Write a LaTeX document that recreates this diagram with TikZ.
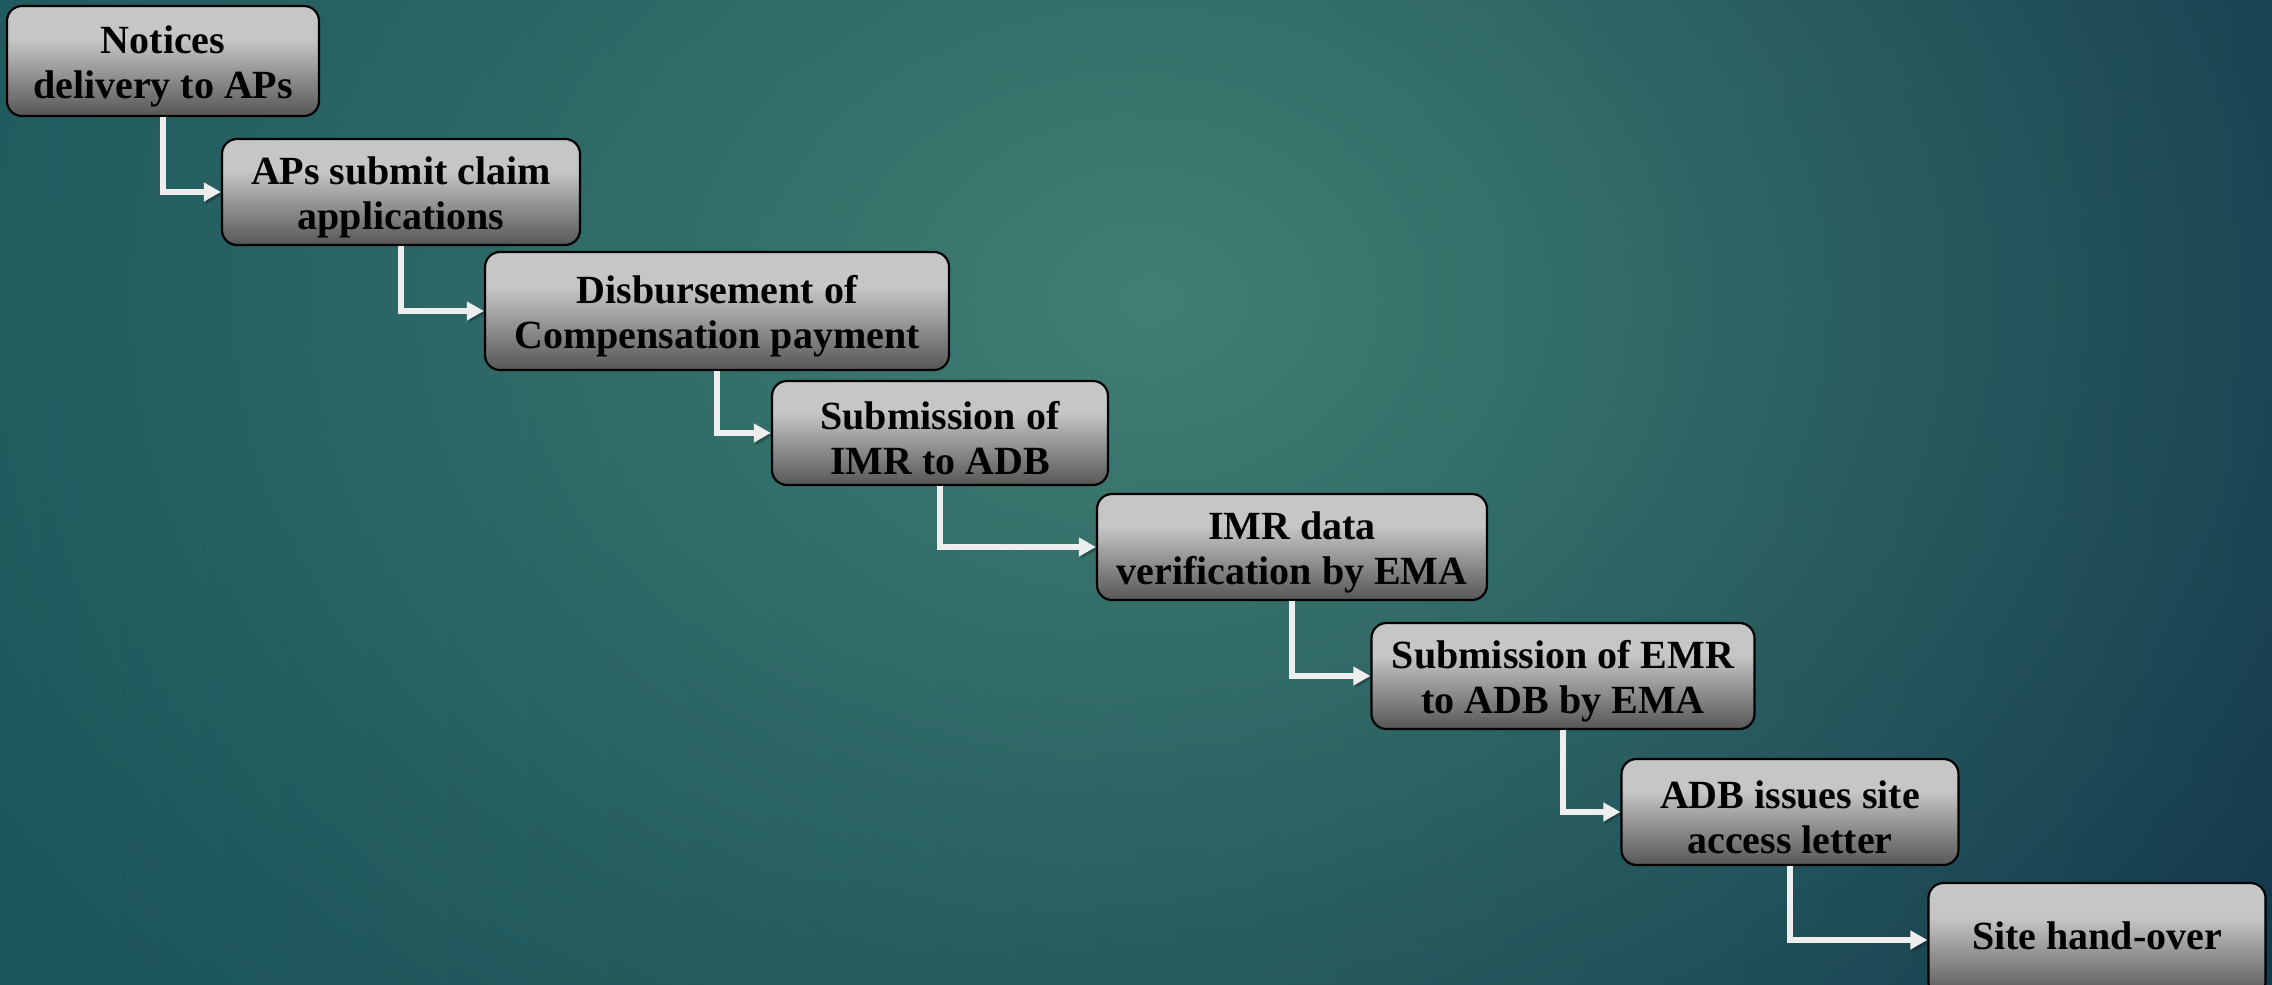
\documentclass[tikz,border=0pt]{standalone}
\usepackage{fontspec}
\setmainfont{Liberation Serif}
\usetikzlibrary{arrows.meta,fadings}
\definecolor{boxdark}{RGB}{86,86,86}
\definecolor{boxlight}{RGB}{198,198,198}
\definecolor{bgL}{RGB}{28,86,92}
\definecolor{bgR}{RGB}{21,58,77}
\definecolor{bgC}{RGB}{64,128,115}
\definecolor{arrowc}{RGB}{238,238,238}
\pgfdeclareverticalshading{boxshade}{100bp}{color(0bp)=(boxdark); color(25bp)=(boxdark); color(60bp)=(boxlight); color(100bp)=(boxlight)}
\tikzfading[name=radfade, inner color=transparent!0, outer color=transparent!100]
\tikzset{
  stepbox/.style={draw=black, line width=1.1pt, rounded corners=7.5pt, shade, shading=boxshade,
    align=center, inner sep=0pt, text=black, text height=42pt,
    font=\fontsize{20}{22.5}\selectfont\bfseries},
  onebox/.style={stepbox, text height=13.5pt, text depth=4.5pt},
  conn/.style={draw=arrowc, line width=2.8pt, -{Triangle[length=8.5pt,width=9pt]},
    preaction={draw=black, opacity=0.22, transform canvas={shift={(1pt,-1.2pt)}}}}
}
\begin{document}
\begin{tikzpicture}[x=0.5pt,y=-0.5pt]
\useasboundingbox (0,0) rectangle (2272,985);
\clip (0,0) rectangle (2272,985);
\shade[left color=bgL, right color=bgR] (0,0) rectangle (2272,985);
\fill[bgC, path fading=radfade] (1150,300) ellipse [x radius=1350, y radius=1050];

\node[stepbox, minimum width=156pt, minimum height=55pt] (b1) at (163,61) {Notices\\delivery to APs};
\node[stepbox, minimum width=179pt, minimum height=53pt] (b2) at (401,192) {APs submit claim\\applications};
\node[stepbox, minimum width=232pt, minimum height=59pt] (b3) at (717,311) {Disbursement of\\Compensation payment};
\node[stepbox, minimum width=168pt, minimum height=52pt] (b4) at (940,433) {Submission of\\IMR to ADB};
\node[stepbox, minimum width=195pt, minimum height=53pt] (b5) at (1292,547) {IMR data\\verification by EMA};
\node[stepbox, minimum width=191.5pt, minimum height=53pt] (b6) at (1563,676) {Submission of EMR\\to ADB by EMA};
\node[stepbox, minimum width=168.5pt, minimum height=53pt] (b7) at (1790,812) {ADB issues site\\access letter};
\node[onebox, minimum width=168.5pt, minimum height=57pt] (b8) at (2097,940) {Site hand-over};

\draw[conn] (b1.south) |- (b2.west);
\draw[conn] (b2.south) |- (b3.west);
\draw[conn] (b3.south) |- (b4.west);
\draw[conn] (b4.south) |- (b5.west);
\draw[conn] (b5.south) |- (b6.west);
\draw[conn] (b6.south) |- (b7.west);
\draw[conn] (b7.south) |- (b8.west);
\end{tikzpicture}
\end{document}
